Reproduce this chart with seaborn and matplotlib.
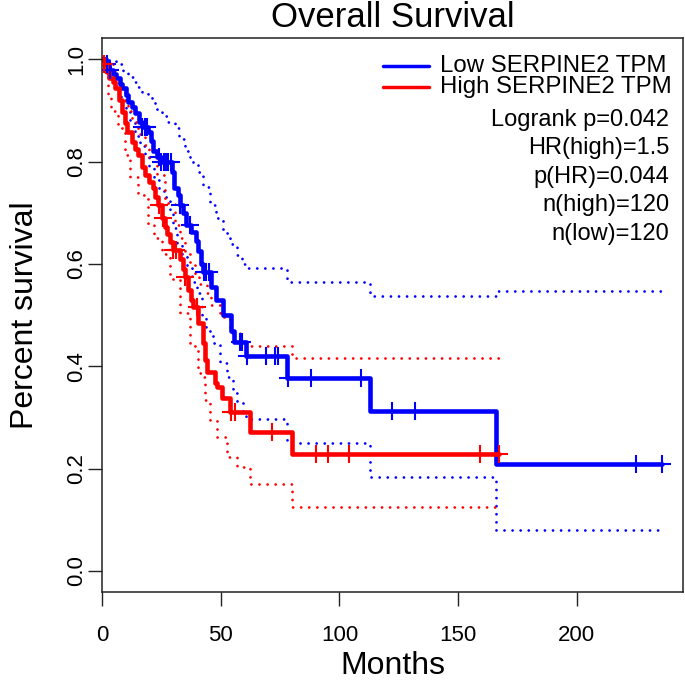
import numpy as np
import pandas as pd
import matplotlib
matplotlib.use("Agg")
import matplotlib.pyplot as plt
import seaborn as sns

# Kaplan-Meier step curves (months, survival after the step)
low_time = [0, 1.5, 3, 4.5, 6, 7.5, 8.5, 10, 11, 12.5, 14, 15.5, 17, 19.5, 20.5, 21.5, 23, 25,
            29.5, 30.5, 32, 33, 34, 35.5, 37.5, 39.5, 40.5, 41.5, 42.5, 46, 48, 51, 54.5, 55.5,
            60.5, 78, 113, 166, 236]
low_surv = [1.0, 0.99, 0.98, 0.972, 0.963, 0.952, 0.944, 0.93, 0.917, 0.907, 0.895, 0.877, 0.868,
            0.858, 0.84, 0.82, 0.81, 0.80, 0.78, 0.748, 0.735, 0.715, 0.70, 0.676, 0.662, 0.645,
            0.625, 0.60, 0.584, 0.555, 0.53, 0.50, 0.47, 0.447, 0.42, 0.377, 0.313, 0.209, 0.209]
low_censor = [2, 3.5, 17, 18, 19, 24, 25, 26, 27, 28, 29, 33, 37, 43, 44, 45, 58, 59, 61, 69, 73,
              74, 78.5, 88, 109, 122, 132, 225, 236]

high_time = [0, 1, 2, 3, 4.5, 5.5, 7, 8.4, 9.7, 10.5, 12.6, 14, 15.2, 17, 18.1, 20, 21.5, 22.5,
             23.6, 25.3, 26.5, 27.4, 28.6, 29.9, 32.9, 34, 35, 36.2, 37.5, 38.3, 40.4, 42.5, 43.5,
             44.2, 47.6, 48.4, 50.5, 53.9, 62.3, 80, 167]
high_surv = [1.0, 0.99, 0.975, 0.963, 0.955, 0.944, 0.92, 0.897, 0.875, 0.858, 0.838, 0.825, 0.813,
             0.79, 0.774, 0.76, 0.748, 0.73, 0.715, 0.69, 0.672, 0.658, 0.643, 0.627, 0.61, 0.59,
             0.575, 0.55, 0.53, 0.516, 0.485, 0.446, 0.412, 0.389, 0.367, 0.36, 0.338, 0.31, 0.272,
             0.229, 0.229]
high_censor = [1, 24, 25.5, 30, 31, 35, 40, 54.5, 56, 71.6, 90, 95, 104, 159, 167]

# 95% confidence bands
low_up_time = [0, 3, 6, 9, 11, 13, 15, 17, 19.5, 21, 23, 25.3, 28, 30.8, 32.5, 35, 37, 40.4, 42.5,
               45.5, 48, 51, 54, 56.9, 59, 61, 78, 113, 166, 236]
low_up = [1.0, 0.998, 0.99, 0.975, 0.965, 0.955, 0.945, 0.935, 0.93, 0.915, 0.9, 0.89, 0.878, 0.866,
          0.845, 0.82, 0.80, 0.78, 0.75, 0.715, 0.69, 0.66, 0.64, 0.617, 0.60, 0.592, 0.565, 0.537,
          0.547, 0.547]
low_lo_time = [0, 2, 4, 6, 8, 10, 12, 14, 16, 18, 20, 22, 24, 26, 28.6, 30, 31.6, 33.5, 35.8, 38,
               40, 42, 44, 46.8, 49.7, 52.7, 55.2, 57, 59.4, 60.5, 78, 113, 166, 236]
low_lo = [1.0, 0.985, 0.96, 0.94, 0.92, 0.90, 0.875, 0.85, 0.83, 0.81, 0.79, 0.765, 0.745, 0.73,
          0.705, 0.67, 0.64, 0.615, 0.594, 0.565, 0.543, 0.50, 0.47, 0.445, 0.406, 0.38, 0.348,
          0.33, 0.31, 0.297, 0.25, 0.184, 0.08, 0.08]
high_up_time = [0, 2, 4.2, 5.5, 7, 9.7, 11, 12.6, 15, 18.1, 20, 23, 26.5, 30.8, 33, 35, 37, 39, 41,
                44.2, 46, 49.7, 53.9, 58, 62.3, 80, 167]
high_up = [1.0, 0.995, 0.99, 0.963, 0.94, 0.917, 0.90, 0.877, 0.855, 0.832, 0.81, 0.774, 0.72,
           0.676, 0.65, 0.62, 0.60, 0.575, 0.56, 0.543, 0.52, 0.496, 0.465, 0.446, 0.44, 0.416,
           0.416]
high_lo_time = [0, 1, 2.5, 4, 6.7, 9.7, 12, 15.2, 19.4, 22, 25.3, 28.6, 32.9, 37, 40.4, 42.5, 43.4,
                45.5, 48.4, 52.7, 56.9, 62.3, 80, 167]
high_lo = [1.0, 0.975, 0.93, 0.90, 0.866, 0.813, 0.77, 0.735, 0.676, 0.65, 0.62, 0.57, 0.504, 0.44,
           0.387, 0.38, 0.334, 0.295, 0.262, 0.223, 0.203, 0.17, 0.125, 0.125]

stats_lines = ["Logrank p=0.042", "HR(high)=1.5", "p(HR)=0.044", "n(high)=120", "n(low)=120"]

sns.set_style("white")
plt.rcParams["font.family"] = ["Liberation Sans", "DejaVu Sans"]
plt.rcParams["text.color"] = "black"
plt.rcParams["axes.labelcolor"] = "black"
plt.rcParams["xtick.color"] = "black"
plt.rcParams["ytick.color"] = "black"

fig = plt.figure(figsize=(6.85, 6.88), dpi=100)
ax = fig.add_axes([0.1489, 0.1395, 0.8482, 0.8052])


def surv_at(times, surv, t):
    i = np.searchsorted(times, t, side="right") - 1
    return np.array(surv)[i]


dot = (0, (0.01, 2.9))
for t, s, col in [(low_up_time, low_up, "blue"), (low_lo_time, low_lo, "blue"),
                  (high_up_time, high_up, "red"), (high_lo_time, high_lo, "red")]:
    sns.lineplot(x=t, y=s, ax=ax, color=col, lw=2.0, linestyle=dot,
                 drawstyle="steps-post", estimator=None, dash_capstyle="round")

for t, s, cen, col in [(low_time, low_surv, low_censor, "blue"),
                       (high_time, high_surv, high_censor, "red")]:
    sns.lineplot(x=t, y=s, ax=ax, color=col, lw=3.3, drawstyle="steps-post",
                 estimator=None)
    sns.scatterplot(x=cen, y=surv_at(t, s, cen), ax=ax, marker="+", s=170,
                    color=col, linewidth=1.5, zorder=5)

ax.set_xlim(0, 244.7)
ax.set_ylim(-0.041, 1.0416)
ax.set_xticks([0, 50, 100, 150, 200])
ax.set_yticks([0.0, 0.2, 0.4, 0.6, 0.8, 1.0])
ax.set_yticklabels(["0.0", "0.2", "0.4", "0.6", "0.8", "1.0"])
ax.tick_params(direction="out", length=10, width=1, color="#222222", labelsize=16,
               labelcolor="black", bottom=True, left=True)
ax.tick_params(axis="x", pad=14)
ax.tick_params(axis="y", pad=0.5)
for lab in ax.get_yticklabels():
    lab.set_rotation(90)
    lab.set_va("center")
for sp in ax.spines.values():
    sp.set_color("#222222")
    sp.set_linewidth(1.1)

ax.set_title("Overall Survival", fontsize=25, pad=8, color="black")
ax.set_xlabel("Months", fontsize=23, labelpad=3)
ax.set_ylabel("Percent survival", fontsize=23, labelpad=19)

# legend drawn by hand to get the tight R-style row spacing
for y, col, txt in [(0.95, "blue", "Low SERPINE2 TPM"), (0.912, "red", "High SERPINE2 TPM")]:
    ax.plot([0.483, 0.562], [y, y], color=col, lw=2.5, transform=ax.transAxes)
    ax.text(0.581, y, txt, fontsize=17.3, va="center", ha="left", transform=ax.transAxes)

for i, txt in enumerate(stats_lines):
    ax.text(0.976, 0.842 - i * 0.0516, txt, fontsize=17, ha="right", va="baseline",
            transform=ax.transAxes)

plt.savefig("out.png", dpi=100)
